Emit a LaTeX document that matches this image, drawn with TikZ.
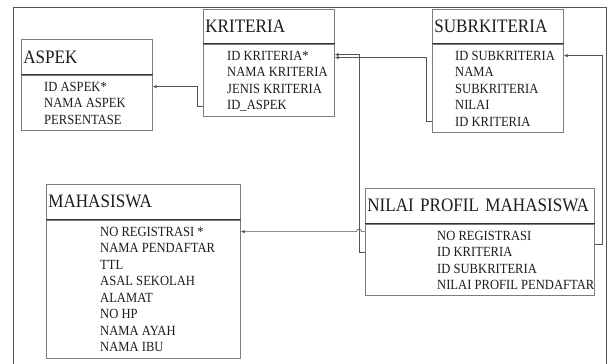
\documentclass[tikz,border=0pt]{standalone}
\usepackage{fontspec}
\setmainfont{Liberation Serif}[FakeStretch=0.9]
\usetikzlibrary{calc,arrows.meta}
\definecolor{ink}{HTML}{1C1C1C}
\definecolor{boxline}{HTML}{7C7C7C}
\definecolor{rule}{HTML}{333333}
\definecolor{wire}{HTML}{555555}
\newcommand\tblheadfont{\fontsize{19}{22}\selectfont}
\newcommand\tblfieldfont{\fontsize{14}{16.5}\selectfont}
\tikzset{
  tblhead/.style={draw=boxline, line width=0.7pt, anchor=north west, inner xsep=2pt, inner ysep=0pt,
    text width=#1, minimum height=35pt, align=left, font=\tblheadfont, text=ink},
  tblbody/.style={draw=boxline, line width=0.7pt, anchor=north west, inner sep=0pt},
  fld/.style={anchor=base west, inner sep=0pt, font=\tblfieldfont, text=ink},
  divider/.style={draw=rule, line width=0.9pt},
  fk/.style={-{Latex[length=4pt,width=3.5pt]}, draw=wire, line width=0.6pt},
  frame/.style={draw=wire, line width=0.8pt},
}

\begin{document}
\begin{tikzpicture}[x=1pt,y=-1pt]
  \useasboundingbox (0,0) rectangle (608,364);
  \draw[frame] (13,364) |- (606,7) -- (606,364);
  % ASPEK
  \node[tblhead=127pt] (aspek) at (21,39) {ASPEK};
  \node[tblbody, minimum width=131pt, minimum height=55pt] (aspek-b) at (aspek.south west) {};
  \foreach \f [count=\i] in {ID ASPEK*,NAMA ASPEK,PERSENTASE}
    \node[fld] (aspek-\i) at ($(aspek-b.north west)+(23,16.5*\i)$) {\f};
  % KRITERIA
  \node[tblhead=127pt, minimum height=34pt] (kri) at (203,9) {KRITERIA};
  \node[tblbody, minimum width=131pt, minimum height=72pt] (kri-b) at (kri.south west) {};
  \foreach \f [count=\i] in {ID KRITERIA*,NAMA KRITERIA,JENIS KRITERIA,ID\_ASPEK}
    \node[fld] (kri-\i) at ($(kri-b.north west)+(24,16.5*\i)$) {\f};
  % SUBRKITERIA
  \node[tblhead=127pt, minimum height=34pt] (sub) at (432,9) {SUBRKITERIA};
  \node[tblbody, minimum width=131pt, minimum height=88pt] (sub-b) at (sub.south west) {};
  \foreach \f [count=\i] in {ID SUBKRITERIA,NAMA,SUBKRITERIA,NILAI,ID KRITERIA}
    \node[fld] (sub-\i) at ($(sub-b.north west)+(23,16.5*\i)$) {\f};
  % MAHASISWA
  \node[tblhead=190pt] (mhs) at (46,184) {MAHASISWA};
  \node[tblbody, minimum width=194pt, minimum height=138pt] (mhs-b) at (mhs.south west) {};
  \foreach \f [count=\i] in {NO REGISTRASI *,NAMA PENDAFTAR,TTL,ASAL SEKOLAH,ALAMAT,NO HP,NAMA AYAH,NAMA IBU}
    \node[fld] (mhs-\i) at ($(mhs-b.north west)+(54,16.5*\i)$) {\f};
  % NILAI PROFIL MAHASISWA
  \node[tblhead=225pt] (nilai) at (365,188) {NILAI PROFIL MAHASISWA};
  \node[tblbody, minimum width=229pt, minimum height=71pt] (nilai-b) at (nilai.south west) {};
  \foreach \f [count=\i] in {NO REGISTRASI,ID KRITERIA,ID SUBKRITERIA,NILAI PROFIL PENDAFTAR}
    \node[fld] (nilai-\i) at ($(nilai-b.north west)+(72,16.5*\i)$) {\f};
  \coordinate (nilai-fk) at ($(nilai-1.west)!.5!(nilai-2.west)$);
  % dividers
  \foreach \t in {aspek,kri,sub,mhs,nilai}
    \draw[divider] (\t-b.north west) -- (\t-b.north east);
  % relations
  \draw[fk] (kri-b.west |- kri-4) -- ++(-6,0) |- (aspek-b.east |- aspek-1);
  \draw[fk] (sub-b.west |- sub-5) -- ++(-6,0) |- ($(kri-b.east |- kri-1)+(0,2)$);
  \draw[fk] (nilai-b.west |- nilai-2) -- ++(-6,0) |- ($(kri-b.east |- kri-1)+(0,-1)$);
  \draw[fk] (nilai-b.west |- mhs-1) -- ++(-3.5,0) arc[start angle=0, end angle=-180, radius=2.5]
    -- (mhs-b.east |- mhs-1);
  \draw[fk] (nilai-b.east |- nilai-fk) -- ++(8,0) |- (sub-b.east |- sub-1);
\end{tikzpicture}
\end{document}
